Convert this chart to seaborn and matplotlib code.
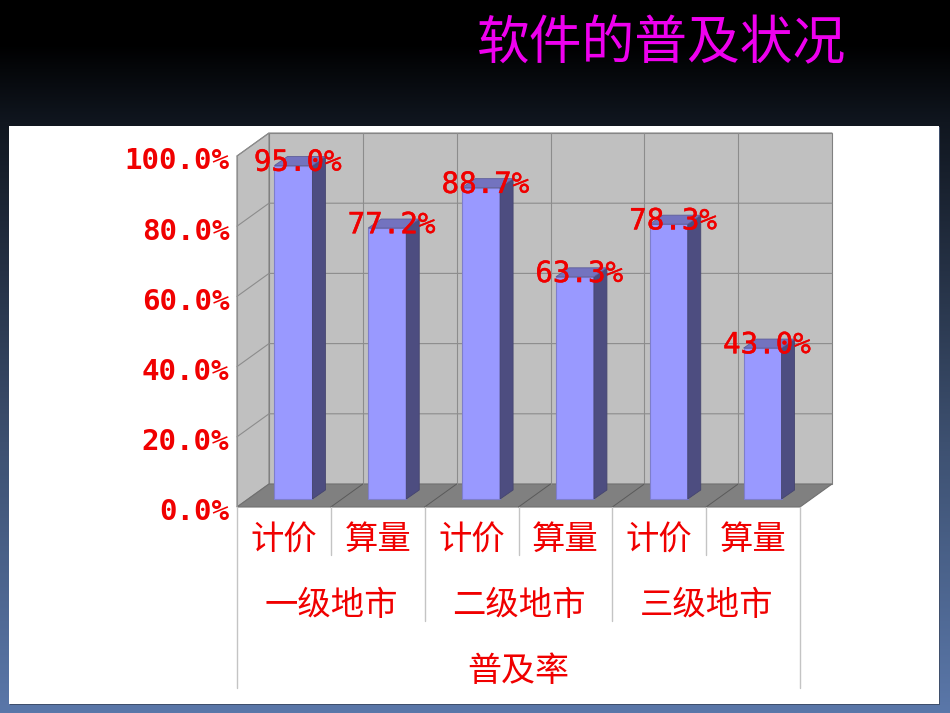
import numpy as np
import pandas as pd
import matplotlib
matplotlib.use('Agg')
import matplotlib.pyplot as plt
import matplotlib.patheffects as pe
from matplotlib.colors import LinearSegmentedColormap
from matplotlib.patches import Polygon, Rectangle
from matplotlib.transforms import Affine2D
import seaborn as sns

title = '软件的普及状况'
groups = ['一级地市', '二级地市', '三级地市']
items = ['计价', '算量', '计价', '算量', '计价', '算量']
root_label = '普及率'
values = [95.0, 77.2, 88.7, 63.3, 78.3, 43.0]
y_ticks = [0, 20, 40, 60, 80, 100]

sns.set_theme(style='white')
plt.rcParams['font.family'] = ['Noto Sans CJK SC', 'DejaVu Sans']

RED = '#f00000'
MONO = ['DejaVu Sans Mono']

# px per unit of the front plane: 93.83 px per category, 3.51 px per percent
WALL_DX, WALL_DY = 32 / 93.83, 23 / 3.51
BAR_DX, BAR_DY = 13 / 93.83, 9 / 3.51
SHIFT_X, SHIFT_Y = 9.5 / 93.83, 8 / 3.51
BAR_W = 38 / 93.83

fig = plt.figure(figsize=(9.5, 7.13), dpi=100)

# slide background and white panel
bg = fig.add_axes([0, 0, 1, 1], zorder=0)
cmap = LinearSegmentedColormap.from_list('slide', [
    (0.0, '#000000'), (0.06, '#000000'), (0.17, '#10161f'),
    (0.62, '#3d5070'), (1.0, '#5a77a9')])
bg.imshow(np.linspace(0, 1, 256).reshape(-1, 1), cmap=cmap, aspect='auto',
          extent=(0, 950, 713, 0))
bg.add_patch(Rectangle((10, 127), 930, 578, fc='#3f4f6c', ec='none'))
bg.add_patch(Rectangle((9, 126), 930, 578, fc='white', ec='none'))
bg.set_xlim(0, 950)
bg.set_ylim(713, 0)
bg.axis('off')

fig.text(661.5 / 950, 1 - 44 / 713, title, color='#ee00ee', fontsize=38,
         ha='center', va='center')

# front plane of the chart
ax = fig.add_axes([237 / 950, 1 - 507 / 713, 563 / 950, 351 / 713], zorder=1)
ax.patch.set_alpha(0)
df = pd.DataFrame({'pos': [str(i) for i in range(len(values))], 'rate': values})
sns.barplot(data=df, x='pos', y='rate', color='#9999ff', saturation=1,
            width=BAR_W, edgecolor='#7e7ecb', linewidth=0.8, ax=ax, zorder=3)
ax.set_xlim(-0.5, len(values) - 0.5)
ax.set_ylim(0, 100)
ax.set_xlabel('')
ax.set_ylabel('')

x0, x1 = ax.get_xlim()
wall_kw = dict(ec='#808080', lw=0.8, clip_on=False, zorder=0.5)
# back wall, left wall, floor
ax.add_patch(Polygon([(x0 + WALL_DX, WALL_DY), (x1 + WALL_DX, WALL_DY),
                      (x1 + WALL_DX, 100 + WALL_DY), (x0 + WALL_DX, 100 + WALL_DY)],
                     fc='#c0c0c0', **wall_kw))
ax.add_patch(Polygon([(x0, 0), (x0 + WALL_DX, WALL_DY),
                      (x0 + WALL_DX, 100 + WALL_DY), (x0, 100)],
                     fc='#c0c0c0', **wall_kw))
ax.add_patch(Polygon([(x0, 0), (x1, 0), (x1 + WALL_DX, WALL_DY), (x0 + WALL_DX, WALL_DY)],
                     fc='#808080', ec='#707070', lw=0.8, clip_on=False, zorder=0.6))

line_kw = dict(color='#8c8c8c', lw=0.8, clip_on=False, zorder=1)
for t in y_ticks[1:]:
    ax.plot([x0, x0 + WALL_DX, x1 + WALL_DX], [t, t + WALL_DY, t + WALL_DY], **line_kw)
for k in range(1, len(values)):
    xk = x0 + k
    ax.plot([xk + WALL_DX, xk + WALL_DX], [WALL_DY, 100 + WALL_DY], **line_kw)
    ax.plot([xk, xk + WALL_DX], [0, WALL_DY], color='#5a5a5a', lw=0.7,
            clip_on=False, zorder=1)

# move the bars into the floor and add their side and top faces
for i, bar in enumerate(ax.patches[:len(values)]):
    bar.set_x(bar.get_x() + SHIFT_X)
    bar.set_y(SHIFT_Y)
    bar.set_clip_on(False)
    left = bar.get_x()
    right = left + bar.get_width()
    base = bar.get_y()
    top = base + bar.get_height()
    ax.add_patch(Polygon([(right, base), (right + BAR_DX, base + BAR_DY),
                          (right + BAR_DX, top + BAR_DY), (right, top)],
                         fc='#4d4d80', ec='#45456f', lw=0.6, clip_on=False, zorder=3))
    ax.add_patch(Polygon([(left, top), (right, top), (right + BAR_DX, top + BAR_DY),
                          (left + BAR_DX, top + BAR_DY)],
                         fc='#7373bf', ec='#5d5d99', lw=0.6, clip_on=False, zorder=3))
    ax.annotate(f'{values[i]:.1f}%', xy=((left + right) / 2, top), xytext=(3, 2),
                textcoords='offset points', ha='center', va='center', color=RED,
                fontsize=21, family=MONO, clip_on=False, zorder=5,
                path_effects=[pe.withStroke(linewidth=0.3, foreground=RED)])

# axes and tick labels
sns.despine(ax=ax, top=True, right=True, left=False, bottom=True)
ax.spines['left'].set_color('#909090')
ax.spines['left'].set_linewidth(0.8)
ax.spines['left'].set_zorder(1)
ax.set_yticks(y_ticks)
ax.set_yticklabels([f'{t:.1f}%' for t in y_ticks], family=MONO, fontweight='bold')
ax.tick_params(axis='y', direction='in', length=5, width=0.8, color='#808080',
               labelsize=21, labelcolor=RED, pad=5.5)
for lab in ax.get_yticklabels():
    lab.set_transform(lab.get_transform() + Affine2D().translate(0, -2.5))
ax.set_xticks(range(len(items)))
ax.set_xticklabels(items)
ax.tick_params(axis='x', length=0, labelsize=24, labelcolor=RED, pad=11)

trans = ax.get_xaxis_transform()
for k, label in enumerate(groups):
    ax.text(2 * k + 0.5, -99 / 351, label, transform=trans, color=RED, fontsize=24,
            ha='center', va='center', clip_on=False)
ax.text(2.5, -165 / 351, root_label, transform=trans, color=RED, fontsize=24.5,
        ha='center', va='center', clip_on=False)

# separators of the multi-level category axis
sep_kw = dict(color='#c4c4c4', lw=1, transform=trans, clip_on=False)
for k in range(len(values) + 1):
    xk = x0 + k
    if k % 6 == 0:
        depth = 181 / 351
    elif k % 2 == 0:
        depth = 114 / 351
    else:
        depth = 48 / 351
    ax.plot([xk, xk], [0, -depth], **sep_kw)

fig.savefig('out.png', dpi=100)
